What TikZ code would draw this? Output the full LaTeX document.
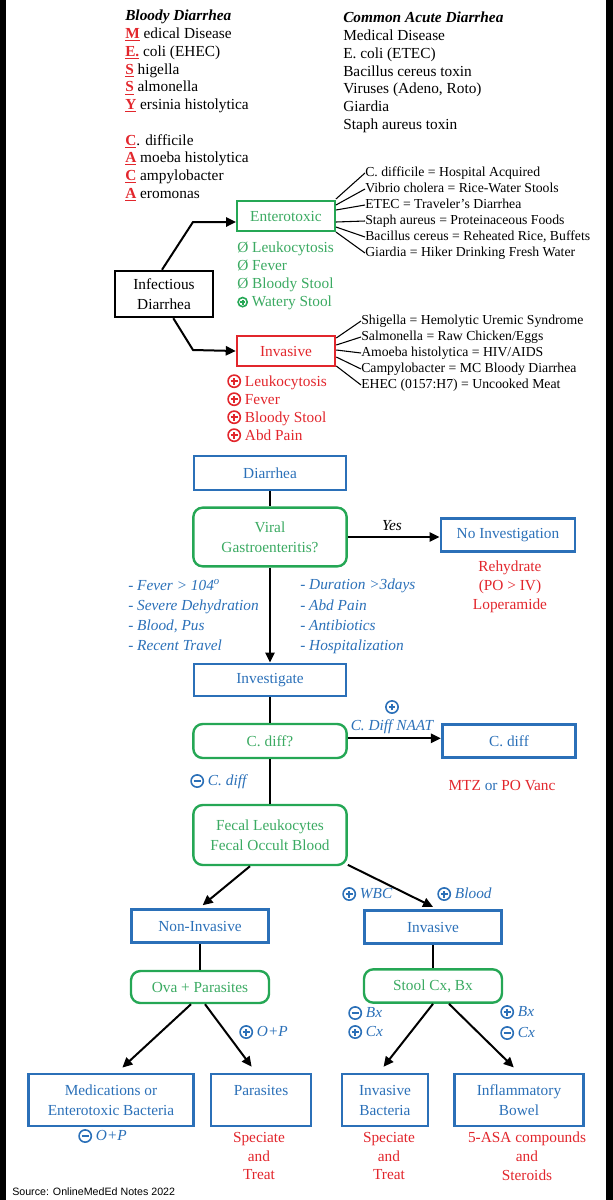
\documentclass[tikz,border=0pt]{standalone}
\usepackage{fontspec}
\setmainfont{Liberation Serif}
\newfontfamily\sourcefont{Liberation Sans}
\usetikzlibrary{arrows.meta}

\definecolor{dxblue}{HTML}{2B70B8}
\definecolor{dxgreen}{HTML}{25A755}
\definecolor{dxgreentext}{HTML}{3BAA62}
\definecolor{dxred}{HTML}{E2262C}

% red underlined first letters
\newcommand{\redlet}[1]{\textcolor{dxred}{\textbf{\underline{#1}}}}
% circled plus / minus
\newcommand{\pcirc}[2][1]{\tikz[baseline=-3.6pt,scale=#1]{\draw[#2,line width=1.2pt] (0pt,0pt) circle (4.6pt); \draw[#2,line width=1.5pt] (-2.6pt,0pt) -- (2.6pt,0pt) (0pt,-2.6pt) -- (0pt,2.6pt);}}
\newcommand{\mcirc}[2][1]{\tikz[baseline=-3.6pt,scale=#1]{\draw[#2,line width=1.2pt] (0pt,0pt) circle (4.6pt); \draw[#2,line width=1.5pt] (-2.6pt,0pt) -- (2.6pt,0pt);}}

\tikzset{
  bluebox/.style={draw=dxblue, line width=2.2pt, text=dxblue, inner sep=0pt, align=center, font=\fontsize{11.5}{15}\selectfont},
  greenbox/.style={draw=dxgreen, line width=1.8pt, rounded corners=7pt, text=dxgreentext, inner sep=0pt, align=center, font=\fontsize{11.5}{15}\selectfont},
  listtext/.style={anchor=north west, inner sep=0pt, align=left, font=\fontsize{11.5}{13.3}\selectfont},
  fantext/.style={anchor=west, inner sep=0pt, font=\fontsize{10.3}{12}\selectfont, text height=1.5ex, text depth=.25ex},
  sidetext/.style={anchor=north west, inner sep=0pt, align=left, text=dxblue, font=\itshape\fontsize{11.5}{15.2}\selectfont},
  note/.style={inner sep=0pt, font=\fontsize{11.5}{14}\selectfont, text height=1.5ex, text depth=.25ex},
  redtext/.style={inner sep=0pt, align=center, text=dxred, font=\fontsize{11.5}{14.2}\selectfont},
  link/.style={line width=1.5pt},
  arrowlink/.style={link, -{Triangle[length=7.5pt,width=7pt]}},
  fanline/.style={line width=0.8pt},
}

\begin{document}
\begin{tikzpicture}[x=0.75pt, y=-0.75pt]
\useasboundingbox (0,0) rectangle (613,1200);
\fill[black] (0,0) rectangle (6,1200);
\fill[black] (606,0) rectangle (613,1200);

% mnemonic lists
\node[listtext] (bloody) at (125,10) {\textbf{\textit{Bloody Diarrhea}}\\
  \redlet{M} edical Disease\\
  \redlet{E.} coli (EHEC)\\
  \redlet{S} higella\\
  \redlet{S} almonella\\
  \redlet{Y} ersinia histolytica\\[13.3pt]
  \redlet{C}. difficile\\
  \redlet{A} moeba histolytica\\
  \redlet{C} ampylobacter\\
  \redlet{A} eromonas};
\node[listtext] (common) at (343,12) {\textbf{\textit{Common Acute Diarrhea}}\\
  Medical Disease\\
  E. coli (ETEC)\\
  Bacillus cereus toxin\\
  Viruses (Adeno, Roto)\\
  Giardia\\
  Staph aureus toxin};

% infectious diarrhea
\node[draw, line width=1.4pt, minimum width=73.5pt, minimum height=35pt, inner sep=0pt, align=center, font=\fontsize{11.5}{15}\selectfont] (inf) at (164,294) {Infectious\\Diarrhea};
\node[draw=dxgreen, line width=1.4pt, text=dxgreentext, minimum width=73.5pt, minimum height=22.5pt, inner sep=0pt, font=\fontsize{11.5}{15}\selectfont] (ent) at (286,216) {Enterotoxic};
\node[draw=dxred, line width=1.4pt, text=dxred, minimum width=74pt, minimum height=22.5pt, inner sep=0pt, font=\fontsize{11.5}{15}\selectfont] (invtop) at (286,351) {Invasive};

\draw[arrowlink] ([xshift=-1.5pt]inf.north) -- (193,222) -- ([yshift=-4.5pt]ent.west);
\draw[arrowlink] ([xshift=7pt]inf.south) -- (193,350) -- (invtop.west);

\node[listtext, text=dxgreentext, font=\fontsize{11.5}{13.5}\selectfont] (entlist) at (237,242) {Ø Leukocytosis\\
  Ø Fever\\
  Ø Bloody Stool\\
  \pcirc[0.75]{dxgreen} Watery Stool};
\node[listtext, text=dxred, font=\fontsize{11.5}{13.5}\selectfont] (invlist) at (227,374) {\pcirc{dxred} Leukocytosis\\
  \pcirc{dxred} Fever\\
  \pcirc{dxred} Bloody Stool\\
  \pcirc{dxred} Abd Pain};

% fans of organisms
\foreach \i/\lbl/\ty/\sy in {1/{C. difficile = Hospital Acquired}/173/12.75,
    2/{Vibrio cholera = Rice-Water Stools}/189/8.25,
    3/{ETEC = Traveler's Diarrhea}/205/4.5,
    4/{Staph aureus = Proteinaceous Foods}/221/-4.5,
    5/{Bacillus cereus = Reheated Rice, Buffets}/237/-8.25,
    6/{Giardia = Hiker Drinking Fresh Water}/253/-12} {
  \node[fantext] (et\i) at (365,\ty) {\lbl};
  \draw[fanline] ([yshift=\sy pt]ent.east) -- (et\i.west);
}
\foreach \i/\lbl/\ty/\sy in {1/{Shigella = Hemolytic Uremic Syndrome}/321/9.75,
    2/{Salmonella = Raw Chicken/Eggs}/337/4.5,
    3/{Amoeba histolytica = HIV/AIDS}/353/0.75,
    4/{Campylobacter = MC Bloody Diarrhea}/369/-4.5,
    5/{EHEC (0157:H7) = Uncooked Meat}/385/-11.25} {
  \node[fantext] (iv\i) at (361,\ty) {\lbl};
  \draw[fanline] ([yshift=\sy pt]invtop.east) -- (iv\i.west);
}

% work-up flowchart
\node[bluebox, minimum width=114pt, minimum height=25.5pt] (diar) at (270,473) {Diarrhea};
\node[greenbox, minimum width=115pt, minimum height=44pt] (viral) at (270,537) {Viral\\Gastroenteritis?};
\node[bluebox, minimum width=100.5pt, minimum height=25pt] (noinv) at (508,535) {No Investigation};
\node[bluebox, minimum width=114pt, minimum height=24pt] (invest) at (270,680) {Investigate};
\node[greenbox, minimum width=115pt, minimum height=25.5pt] (cdq) at (270,741) {C. diff?};
\node[bluebox, minimum width=100pt, minimum height=25pt] (cdiff) at (509,741) {C. diff};
\node[greenbox, minimum width=115pt, minimum height=45pt] (fecal) at (270,835) {Fecal Leukocytes\\Fecal Occult Blood};
\node[bluebox, minimum width=103pt, minimum height=25pt] (noninv) at (200,926) {Non-Invasive};
\node[bluebox, minimum width=103pt, minimum height=25pt] (invb) at (433,927) {Invasive};
\node[greenbox, minimum width=103.5pt, minimum height=24pt] (ova) at (200,987) {Ova + Parasites};
\node[greenbox, minimum width=103.5pt, minimum height=25pt] (stool) at (433,986) {Stool Cx, Bx};
\node[bluebox, minimum width=124pt, minimum height=39pt] (meds) at (111,1100) {Medications or\\Enterotoxic Bacteria};
\node[bluebox, minimum width=75pt, minimum height=39pt] (paras) at (261,1100) {Parasites\\\phantom{P}};
\node[bluebox, minimum width=64.5pt, minimum height=39pt] (invbact) at (385,1100) {Invasive\\Bacteria};
\node[bluebox, minimum width=97pt, minimum height=39pt] (ibd) at (519,1100) {Inflammatory\\Bowel};

\draw[link] (diar.south) -- (viral.north);
\draw[arrowlink] (viral.east) -- (viral.east -| noinv.west);
\draw[arrowlink] (viral.south) -- (invest.north);
\draw[link] (invest.south) -- (cdq.north);
\draw[arrowlink] ([yshift=2pt]cdq.east) -- ([yshift=2pt]cdq.east -| cdiff.west);
\draw[link] (cdq.south) -- (fecal.north);
\draw[arrowlink] ([xshift=-15pt]fecal.south) -- ([xshift=2pt,yshift=2pt]noninv.north);
\draw[arrowlink] ([yshift=1pt]fecal.south east) -- ([yshift=1.5pt]invb.north);
\draw[link] (noninv.south) -- (ova.north);
\draw[link] (invb.south) -- (stool.north);
\draw[arrowlink, shorten >=5.5pt] ([xshift=-6.75pt]ova.south) -- ([xshift=4.5pt]meds.north);
\draw[arrowlink, shorten >=5.5pt] ([xshift=3.75pt]ova.south) -- ([xshift=-3.75pt]paras.north);
\draw[arrowlink, shorten >=5.5pt] (stool.south) -- ([xshift=-4.5pt]invbact.north);
\draw[arrowlink, shorten >=5.5pt] ([xshift=12pt]stool.south) -- (ibd.north);

% criteria and labels
\node[sidetext] (critl) at (128,579) {- Fever > 104\textsuperscript{o}\\
  - Severe Dehydration\\
  - Blood, Pus\\
  - Recent Travel};
\node[sidetext] (critr) at (300,579) {- Duration >3days\\
  - Abd Pain\\
  - Antibiotics\\
  - Hospitalization};
\node[note, font=\itshape\fontsize{11.5}{14}\selectfont] (yes) at (392,527) {Yes};
\node[redtext] (rehyd) at (510,587) {Rehydrate\\(PO > IV)\\Loperamide};
\node[note, text=dxblue, font=\itshape\fontsize{11.5}{14}\selectfont] (naat) at (392,727) {C. Diff NAAT};
\node[inner sep=0pt] (naatplus) at (392,707) {\pcirc{dxblue}};
\node[note, text=dxblue] (mtz) at (502,787) {\textcolor{dxred}{MTZ} or \textcolor{dxred}{PO Vanc}};
\node[note, anchor=west, text=dxblue] (negcd) at (190,782) {\mcirc{dxblue} \textit{C. diff}};
\node[note, anchor=west, text=dxblue] (wbc) at (342,895) {\pcirc{dxblue} \textit{WBC}};
\node[note, anchor=west, text=dxblue] (blood) at (437,895) {\pcirc{dxblue} \textit{Blood}};
\node[note, anchor=west, text=dxblue] (negbx) at (348,1014) {\mcirc{dxblue} \textit{Bx}};
\node[note, anchor=west, text=dxblue] (poscx) at (348,1033) {\pcirc{dxblue} \textit{Cx}};
\node[note, anchor=west, text=dxblue] (posbx) at (500,1013) {\pcirc{dxblue} \textit{Bx}};
\node[note, anchor=west, text=dxblue] (negcx) at (500,1034) {\mcirc{dxblue} \textit{Cx}};
\node[note, anchor=west, text=dxblue] (posop) at (239,1033) {\pcirc{dxblue} \textit{O+P}};
\node[note, anchor=west, text=dxblue] (negop) at (78,1137) {\mcirc{dxblue} \textit{O+P}};
\node[redtext] (treatp) at (259,1156) {Speciate\\and\\Treat};
\node[redtext] (treatb) at (389,1156) {Speciate\\and\\Treat};
\node[redtext] (treati) at (527,1156) {5-ASA compounds\\and\\Steroids};
\node[anchor=west, inner sep=0pt, font=\sourcefont\fontsize{8}{9.6}\selectfont] (source) at (12,1192) {Source: OnlineMedEd Notes 2022};
\end{tikzpicture}
\end{document}
